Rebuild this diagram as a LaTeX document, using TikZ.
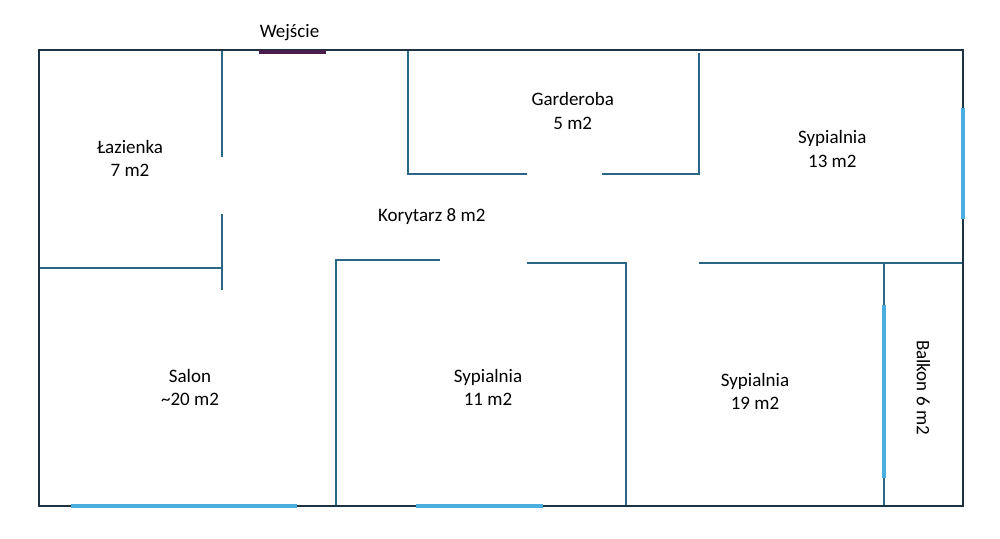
\documentclass[tikz,border=0pt]{standalone}
\usepackage{fontspec}
\setmainfont{Carlito}
\usetikzlibrary{positioning}
\definecolor{frame}{HTML}{1B3344}
\definecolor{wall}{HTML}{2A6787}
\definecolor{window}{HTML}{4BAEE0}
\definecolor{door}{HTML}{4A1C4C}
\tikzset{
    room/.style={align=center, inner sep=0pt},
    walls/.style={wall, line width=1.4pt},
    glass/.style={window, line width=3.2pt}
}

\begin{document}
\begin{tikzpicture}[x=0.75pt, y=-0.75pt, font=\fontsize{14.25}{17.5}\selectfont]
    \useasboundingbox (0,0) rectangle (1000,539);
    % inner walls
    \draw[walls]
    (221.7,50) -- (221.7,156.7)
    (221.7,214) -- (221.7,290)
    (39,268.3) -- (221.7,268.3)
    (408.3,50) -- (408.3,174.3) -- (527.3,174.3)
    (601.7,174.3) -- (698.7,174.3) -- (698.7,52.7)
    (440,260) -- (335.7,260) -- (335.7,506)
    (527.3,263.3) -- (626,263.3) -- (626,506)
    (698.7,263.3) -- (963,263.3)
    (884.3,263.3) -- (884.3,506);
    % outer frame
    \draw[frame, line width=1.4pt] (39,50) rectangle (963,506);
    % windows and door
    \draw[glass]
    (71,506) -- (297.3,506)
    (415.7,506) -- (542.7,506)
    (884.3,305) -- (884.3,477.7)
    (963,108.3) -- (963,219);
    \draw[door, line width=3pt] (259,52.2) -- (326,52.2);
    % labels
    \node[room] (wejscie) at (289.5,32.5) {Wejście};
    \node[room] (lazienka) at (130,158.5) {Łazienka\\7 m2};
    \node[room] (korytarz) at (431.7,217) {Korytarz 8 m2};
    \node[room] (garderoba) at (572.7,111) {Garderoba\\5 m2};
    \node[room] (sypialnia13) at (832.3,149) {Sypialnia\\13 m2};
    \node[room] (salon) at (190,387.5) {Salon\\\textasciitilde20 m2};
    \node[room] (sypialnia11) at (488,387.5) {Sypialnia\\11 m2};
    \node[room] (sypialnia19) at (755,391.5) {Sypialnia\\19 m2};
    \node[room, rotate=-90] (balkon) at (923.3,387.5) {Balkon 6 m2};
\end{tikzpicture}
\end{document}
